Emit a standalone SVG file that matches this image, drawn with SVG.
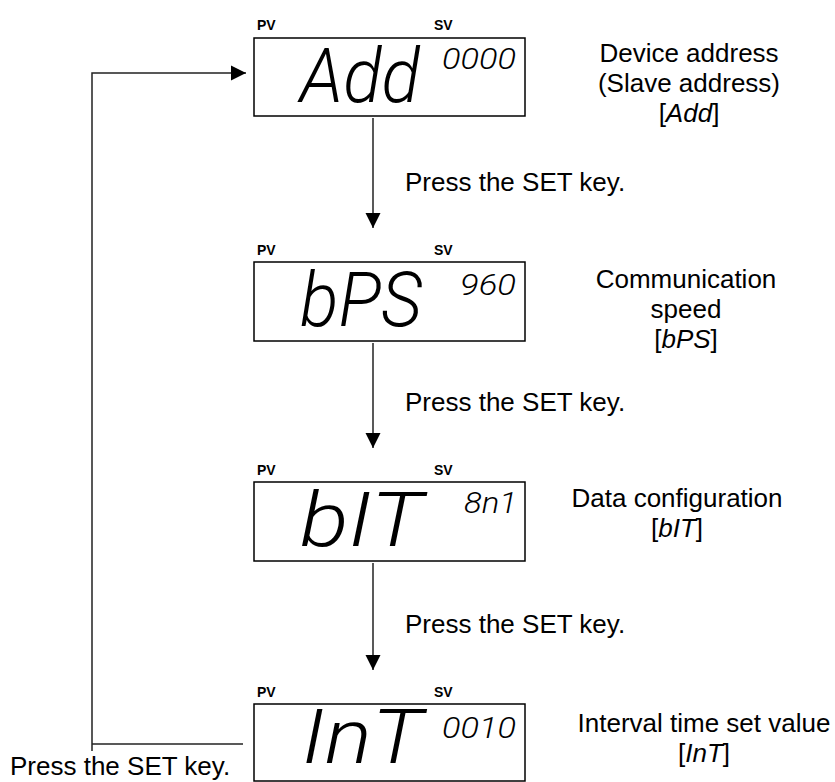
<svg xmlns="http://www.w3.org/2000/svg" width="835" height="782" viewBox="0 0 835 782">
<style>
.bg{fill:#fff}
.box{fill:#fff;stroke:#000;stroke-width:1.5}
.lbl{font-family:"Liberation Sans",Arial,sans-serif;font-weight:bold;font-size:14px;fill:#000}
.txt{font-family:"Liberation Sans",Arial,sans-serif;font-size:26px;fill:#000}
.ctr{text-anchor:middle}
.seg{font-family:Roboto,"DejaVu Sans",sans-serif;font-weight:300;font-style:italic;fill:#000}
.big{font-size:76px}
.small{font-size:30px}
.conn{fill:none;stroke:#222;stroke-width:1.5}
</style>
<defs>
<marker id="ah" markerUnits="userSpaceOnUse" markerWidth="16" markerHeight="16" viewBox="0 0 16 16" refX="15" refY="8" orient="auto">
<path d="M0,0.5 L15,8 L0,15.5 Z" fill="#000"/>
</marker>
</defs>
<rect class="bg" width="835" height="782"/>
<g id="connectors">
<path class="conn" d="M92,751 V73 H246" marker-end="url(#ah)"/>
<line class="conn" x1="92" y1="744" x2="243" y2="744"/>
<line class="conn" x1="373" y1="118" x2="373" y2="228" marker-end="url(#ah)"/>
<line class="conn" x1="373" y1="343" x2="373" y2="448" marker-end="url(#ah)"/>
<line class="conn" x1="373" y1="563" x2="373" y2="670" marker-end="url(#ah)"/>
</g>
<g id="label-set1"><text class="txt" x="405" y="191">Press the SET key.</text></g>
<g id="label-set2"><text class="txt" x="405" y="411">Press the SET key.</text></g>
<g id="label-set3"><text class="txt" x="405" y="633">Press the SET key.</text></g>
<g id="label-set4"><text class="txt" x="10" y="775">Press the SET key.</text></g>
<g id="node-add">
<text class="lbl" x="257" y="30">PV</text><text class="lbl" x="434" y="30">SV</text>
<rect class="box" x="254" y="38" width="271" height="78"/>
<text class="seg big" x="300" y="102" textLength="120" lengthAdjust="spacingAndGlyphs">Add</text>
<text class="seg small" x="442" y="69" textLength="74" lengthAdjust="spacingAndGlyphs">0000</text>
<text class="txt ctr" x="689" y="62">Device address</text>
<text class="txt ctr" x="689" y="92">(Slave address)</text>
<text class="txt ctr" x="689" y="122">[<tspan font-style="italic">Add</tspan>]</text>
</g>
<g id="node-bps">
<text class="lbl" x="257" y="255">PV</text><text class="lbl" x="434" y="255">SV</text>
<rect class="box" x="254" y="262" width="271" height="79"/>
<text class="seg big" x="300" y="326" textLength="122" lengthAdjust="spacingAndGlyphs">bPS</text>
<text class="seg small" x="460" y="295" textLength="56" lengthAdjust="spacingAndGlyphs">960</text>
<text class="txt ctr" x="686" y="288">Communication</text>
<text class="txt ctr" x="686" y="318">speed</text>
<text class="txt ctr" x="686" y="348">[<tspan font-style="italic">bPS</tspan>]</text>
</g>
<g id="node-bit">
<text class="lbl" x="257" y="475">PV</text><text class="lbl" x="434" y="475">SV</text>
<rect class="box" x="254" y="482" width="271" height="79"/>
<text class="seg big" x="300" y="546" textLength="123" lengthAdjust="spacingAndGlyphs">bIT</text>
<text class="seg small" x="464" y="513" textLength="53" lengthAdjust="spacingAndGlyphs">8n1</text>
<text class="txt ctr" x="677" y="507">Data configuration</text>
<text class="txt ctr" x="677" y="537">[<tspan font-style="italic">bIT</tspan>]</text>
</g>
<g id="node-int">
<text class="lbl" x="257" y="697">PV</text><text class="lbl" x="434" y="697">SV</text>
<rect class="box" x="254" y="704" width="271" height="77"/>
<text class="seg big" x="302" y="763" textLength="121" lengthAdjust="spacingAndGlyphs">InT</text>
<text class="seg small" x="442" y="738" textLength="74" lengthAdjust="spacingAndGlyphs">0010</text>
<text class="txt ctr" x="704" y="732">Interval time set value</text>
<text class="txt ctr" x="704" y="762">[<tspan font-style="italic">InT</tspan>]</text>
</g>
</svg>
